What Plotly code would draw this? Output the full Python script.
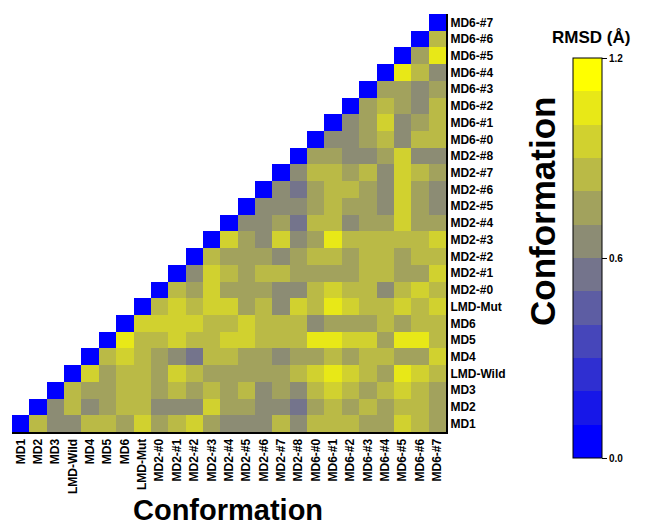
import plotly.graph_objects as go

labels = ["MD1", "MD2", "MD3", "LMD-Wild", "MD4", "MD5", "MD6", "LMD-Mut",
          "MD2-#0", "MD2-#1", "MD2-#2", "MD2-#3", "MD2-#4", "MD2-#5", "MD2-#6", "MD2-#7", "MD2-#8",
          "MD6-#0", "MD6-#1", "MD6-#2", "MD6-#3", "MD6-#4", "MD6-#5", "MD6-#6", "MD6-#7"]

# RMSD (Angstrom) rows: row i holds values for columns i..24 (upper triangle incl. diagonal)
rmsd_rows = [
    [0, .85, .65, .65, .85, .85, .75, .95, .75, .85, .95, .75, .65, .65, .65, .85, .65, .85, .85, .85, .75, .75, .95, .85, .75],
    [0, .65, .85, .65, .75, .85, .85, .65, .65, .65, .95, .75, .75, .65, .65, .55, .75, .85, .75, .85, .75, .85, .85, .75],
    [0, .85, .75, .75, .85, .85, .75, .85, .75, .85, .75, .85, .65, .75, .65, .85, .95, .85, .75, .85, .95, .85, .75],
    [0, .95, .75, .85, .85, .75, .95, .85, .75, .75, .75, .75, .75, .85, .95, 1.05, .95, .85, .75, 1.05, .95, .85],
    [0, .85, .95, .85, .75, .65, .55, .85, .85, .75, .75, .65, .75, .75, .85, .75, .85, .85, .75, .75, .95],
    [0, 1.05, .85, .85, .95, .85, .85, .95, .95, .85, .85, .85, 1.05, 1.05, .95, .95, .75, 1.05, 1.05, .85],
    [0, .95, .95, .95, .95, .85, .85, .95, .85, .85, .85, .65, .75, .75, .75, .85, .75, .85, .85],
    [0, .85, .95, .85, .95, .95, .75, .85, .65, .95, .85, 1.05, .95, .85, .85, .95, .85, .95],
    [0, .85, .75, .95, .75, .75, .75, .65, .65, .85, .95, .85, .85, .65, .85, .95, .85],
    [0, .65, .95, .85, .75, .85, .85, .75, .75, .75, .75, .85, .85, .75, .75, .95],
    [0, .85, .75, .75, .75, .65, .75, .85, .85, .75, .85, .85, .75, .85, .85],
    [0, .95, .75, .65, .95, .65, .75, 1.05, .85, .85, .85, .85, .85, .95],
    [0, .65, .65, .75, .55, .85, .85, .65, .75, .75, .95, .75, .75],
    [0, .65, .65, .65, .75, .85, .75, .75, .65, .95, .75, .65],
    [0, .65, .55, .75, .85, .85, .75, .65, .95, .75, .65],
    [0, .65, .85, .85, .75, .85, .65, .95, .85, .75],
    [0, .75, .75, .65, .65, .75, .95, .65, .65],
    [0, .65, .65, .75, .85, .65, .85, .85],
    [0, .65, .75, .95, .65, .75, .85],
    [0, .75, .85, .75, .65, .85],
    [0, .75, .75, .65, .75],
    [0, 1.05, .85, .65],
    [0, .75, 1.05],
    [0, .85],
    [0],
]

n = len(labels)
z = []
for i, row in enumerate(rmsd_rows):
    z.append([None] * i + row)

band_colors = [
    (0, 0, 255), (23, 23, 232), (47, 47, 209), (70, 70, 186), (93, 93, 163), (116, 116, 140),
    (140, 140, 116), (162, 162, 93), (186, 186, 70), (209, 209, 47), (232, 232, 23), (255, 255, 0),
]
nb = len(band_colors)
colorscale = []
for k, c in enumerate(band_colors):
    col = "rgb(%d,%d,%d)" % c
    colorscale.append([k / nb, col])
    colorscale.append([(k + 1) / nb, col])

FONT = "Liberation Sans, Arial, sans-serif"

fig = go.Figure(go.Heatmap(
    z=z,
    x=list(range(n)),
    y=list(range(n)),
    zmin=0, zmax=1.2,
    colorscale=colorscale,
    hoverongaps=False,
    colorbar=dict(
        x=(573 - 12) / 434, xanchor="left", xpad=0, ypad=0,
        y=(432 - 258) / 418, yanchor="middle",
        thicknessmode="pixels", thickness=29,
        lenmode="pixels", len=400,
        outlinewidth=1, outlinecolor="black",
        tickvals=[0, 0.6, 1.2], ticktext=["0.0", "0.6", "1.2"],
        ticks="outside", ticklen=5, tickcolor="black", tickwidth=1,
        tickfont=dict(family=FONT, size=10, color="black", weight="bold"),
    ),
))

fig.update_layout(
    width=651, height=527,
    margin=dict(l=12, r=205, t=14, b=95),
    paper_bgcolor="white", plot_bgcolor="white",
    font=dict(family=FONT, color="black"),
    xaxis=dict(
        range=[-0.5, n - 0.5], tickmode="array", tickvals=list(range(n)), ticktext=labels,
        tickangle=-90, showgrid=False, zeroline=False, showline=True, linecolor="black",
        linewidth=2, ticks="", tickfont=dict(family=FONT, size=12, color="black", weight="bold"),
    ),
    yaxis=dict(
        range=[-0.5, n - 0.5], tickmode="array", tickvals=list(range(n)), ticktext=labels,
        side="right", showgrid=False, zeroline=False, showline=True, linecolor="black",
        linewidth=2, ticks="", tickfont=dict(family=FONT, size=12, color="black", weight="bold"),
    ),
    annotations=[
        dict(text="Conformation", xref="paper", yref="paper", x=(228 - 12) / 434, y=(432 - 510) / 418,
             xanchor="center", yanchor="middle", showarrow=False,
             font=dict(family=FONT, size=29, color="black", weight="bold")),
        dict(text="Conformation", xref="paper", yref="paper", x=(542 - 12) / 434, y=(432 - 212) / 418,
             xanchor="center", yanchor="middle", showarrow=False, textangle=-90,
             font=dict(family=FONT, size=35, color="black", weight="bold")),
        dict(text="RMSD (Å)", xref="paper", yref="paper", x=(591 - 12) / 434, y=(432 - 37) / 418,
             xanchor="center", yanchor="middle", showarrow=False,
             font=dict(family=FONT, size=17, color="black", weight="bold")),
    ],
)

fig.write_html("out.html")
